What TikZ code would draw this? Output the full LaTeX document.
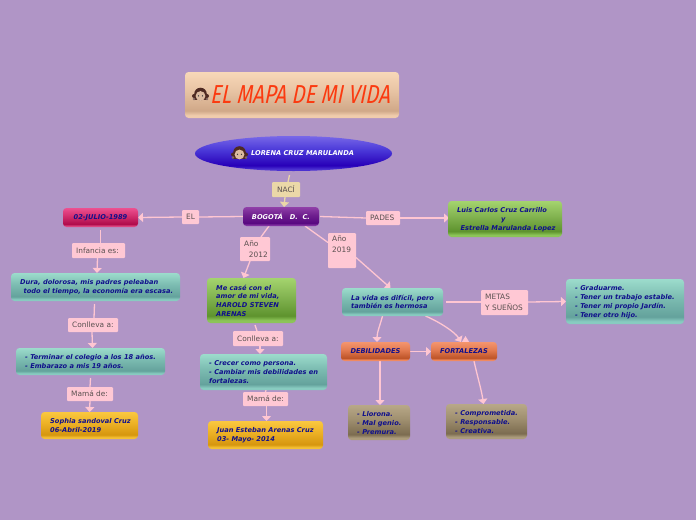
\documentclass[tikz,border=0pt]{standalone}
\usepackage{fontspec}
\setmainfont{DejaVu Sans}
\newfontfamily\titlefont{Fira Sans}
\usetikzlibrary{arrows.meta,shapes.geometric,backgrounds,calc}
\definecolor{bgp}{HTML}{B095C6}
\definecolor{lnk}{HTML}{FFC6D2}
\definecolor{lblc}{HTML}{FFC8D4}
\definecolor{cream}{HTML}{EBD8A8}
\definecolor{ink}{HTML}{10108C}
\definecolor{lbltext}{HTML}{5A5050}
\definecolor{titlered}{HTML}{FB3A10}
\newcommand{\shadedef}[5]{% name, top, mid, bottom, band
  \pgfdeclareverticalshading{#1}{100bp}{color(0bp)=(#5); color(25bp)=(#5); color(28bp)=(#5); color(33bp)=(#4); color(55bp)=(#3); color(75bp)=(#2); color(100bp)=(#2)}}
\definecolor{tA}{HTML}{9CDCCC}\definecolor{tB}{HTML}{7DBDB2}\definecolor{tC}{HTML}{64A29C}\definecolor{tD}{HTML}{88CBC0}
\definecolor{gA}{HTML}{A4D46E}\definecolor{gB}{HTML}{84B552}\definecolor{gC}{HTML}{5E932E}\definecolor{gD}{HTML}{8CC458}
\definecolor{oA}{HTML}{FAC840}\definecolor{oB}{HTML}{EDB226}\definecolor{oC}{HTML}{D6960E}\definecolor{oD}{HTML}{F4C034}
\definecolor{rA}{HTML}{F4956E}\definecolor{rB}{HTML}{E47C52}\definecolor{rC}{HTML}{BE5428}\definecolor{rD}{HTML}{F08A60}
\definecolor{nA}{HTML}{B8A888}\definecolor{nB}{HTML}{A09070}\definecolor{nC}{HTML}{7C6C50}\definecolor{nD}{HTML}{AC9C7C}
\definecolor{pA}{HTML}{EC5090}\definecolor{pB}{HTML}{D43070}\definecolor{pC}{HTML}{B00C4C}\definecolor{pD}{HTML}{DC4480}
\definecolor{vA}{HTML}{9040A8}\definecolor{vB}{HTML}{702090}\definecolor{vC}{HTML}{580880}\definecolor{vD}{HTML}{8030A0}
\definecolor{bA}{HTML}{7868E8}\definecolor{bB}{HTML}{4A38D8}\definecolor{bC}{HTML}{2800B8}\definecolor{bD}{HTML}{4A30D0}
\definecolor{kA}{HTML}{F8D8B8}\definecolor{kB}{HTML}{E8C4A4}\definecolor{kC}{HTML}{D0A888}\definecolor{kD}{HTML}{F0CCAC}
\shadedef{shT}{tA}{tB}{tC}{tD}
\shadedef{shG}{gA}{gB}{gC}{gD}
\shadedef{shO}{oA}{oB}{oC}{oD}
\shadedef{shR}{rA}{rB}{rC}{rD}
\shadedef{shN}{nA}{nB}{nC}{nD}
\shadedef{shP}{pA}{pB}{pC}{pD}
\shadedef{shV}{vA}{vB}{vC}{vD}
\shadedef{shB}{bA}{bB}{bC}{bD}
\shadedef{shK}{kA}{kB}{kC}{kD}
\tikzset{
  x=1pt,y=-1pt,
  box/.style={rounded corners=3.5pt,inner sep=0pt,outer sep=0pt,anchor=north west,shade,align=left,text=ink},
  boxtext/.style={anchor=north west,inner sep=0pt,align=left,text=ink,font=\fontsize{6.65}{8.8}\selectfont\bfseries\itshape},
  headtext/.style={inner sep=0pt,text=ink,font=\fontsize{6.65}{8}\selectfont\bfseries\itshape},
  lbl/.style={fill=lblc,rounded corners=1pt,inner sep=0pt,outer sep=0pt,anchor=north west},
  lbltxt/.style={inner sep=0pt,align=left,text=lbltext,font=\fontsize{7.4}{9}\selectfont},
  lnkl/.style={draw=lnk,line width=1.3pt,line cap=butt},
  arr/.style={lnkl,-{Triangle[width=9pt,length=5pt,color=lnk]}},
}
\newcommand{\bx}[7]{% name x0 y0 x1 y1 shading text
  \node[box,shading=#6,minimum width=#4pt-#2pt,minimum height=#5pt-#3pt] (#1) at (#2,#3) {};
  \node[boxtext] at (#2+9,#3+6.5) {#7};}
\newcommand{\lb}[6]{% name x0 y0 x1 y1 text
  \node[lbl,minimum width=#4pt-#2pt,minimum height=#5pt-#3pt] (#1) at (#2,#3) {};
  \node[lbltxt,anchor=west] at (#2+4,{(#3+#5)/2}) {#6};}
\newcommand{\girl}[2]{%
  \fill[fill=#1] (#2) ++(-6.5,1) circle[radius=2];
  \fill[fill=#1] (#2) ++(6.5,1) circle[radius=2];
  \fill[fill=#1] (#2) ++(0,-1) circle[radius=6.3];
  \fill[fill=#1] (#2) ++(-6.3,-1) rectangle ++(12.6,6);
  \fill[fill=#1!70!white] (#2) ++(-6.5,4) circle[radius=1.4];
  \fill[fill=#1!70!white] (#2) ++(6.5,4) circle[radius=1.4];
  \fill[fill=#1!25!white!80!orange] (#2) ++(0,1) circle[radius=4.9];
  \fill[fill=black!75] (#2) ++(-2,0.8) circle[radius=.7];
  \fill[fill=black!75] (#2) ++(2,0.8) circle[radius=.7];
}
\definecolor{hairb}{HTML}{4E2A22}
\begin{document}
\begin{tikzpicture}
\useasboundingbox (0,0) rectangle (696,520);
% title
\node[box,shading=shK,minimum width=214pt,minimum height=46pt] (title) at (185,72) {};
\girl{hairb}{200.5,95}
\node[inner sep=0pt,text=titlered,xscale=.79,xslant=.12] (ttext) at (301.5,95) {\fontsize{26}{28}\selectfont\titlefont\itshape EL MAPA DE MI VIDA};
% root
\node[ellipse,shade,shading=shB,minimum width=197pt,minimum height=35pt,inner sep=0pt,outer sep=0pt] (root) at (293.5,153.5) {};
\girl{hairb}{239.5,153.5}
\node[anchor=west,inner sep=0pt,text=white,font=\fontsize{6.65}{8}\selectfont\bfseries\itshape] at (251,153.5) {LORENA CRUZ MARULANDA};
% central
\node[box,shading=shV,minimum width=76pt,minimum height=19pt] (bog) at (243,207) {};
\node[inner sep=0pt,text=white,font=\fontsize{6.65}{8}\selectfont\bfseries\itshape] at (281,216) {BOGOTÁ\ \ \ D.\ \ C.};
\node[box,shading=shP,minimum width=75pt,minimum height=19pt] (date) at (63,208) {};
\node[headtext] at (100.5,217.5) {02-JULIO-1989};
% content boxes
\bx{infa}{11}{273}{180}{301}{shT}{Dura, dolorosa, mis padres peleaban\\\ \,todo el tiempo, la economía era escasa.}
\bx{cole}{16}{348}{165}{375}{shT}{- Terminar el colegio a los 18 años.\\- Embarazo a mis 19 años.}
\bx{soph}{41}{412}{138}{439}{shO}{Sophia sandoval Cruz\\06-Abril-2019}
\bx{case}{207}{278}{296}{323}{shG}{Me casé con el\\amor de mi vida,\\HAROLD STEVEN\\ARENAS}
\bx{crec}{200}{354}{327}{390}{shT}{- Crecer como persona.\\- Cambiar mis debilidades en\\fortalezas.}
\bx{juan}{208}{421}{323}{449}{shO}{Juan Esteban Arenas Cruz\\03- Mayo- 2014}
\bx{vida}{342}{288}{443}{316}{shT}{La vida es difícil, pero\\también es hermosa}
\bx{padr}{448}{201}{562}{237}{shG}{Luis Carlos Cruz Carrillo\\\hspace*{44pt}y\\\ \,Estrella Marulanda Lopez}
\bx{meta}{566}{279}{684}{324}{shT}{- Graduarme.\\- Tener un trabajo estable.\\- Tener mi propio Jardín.\\- Tener otro hijo.}
\bx{llor}{348}{405}{410}{440}{shN}{- Llorona.\\- Mal genio.\\- Premura.}
\bx{comp}{446}{404}{527}{439}{shN}{- Comprometida.\\- Responsable.\\- Creativa.}
\node[box,shading=shR,minimum width=69pt,minimum height=19pt] (deb) at (341,342) {};
\node[headtext] at (375.5,351.5) {DEBILIDADES};
\node[box,shading=shR,minimum width=66pt,minimum height=19pt] (fort) at (431,342) {};
\node[headtext] at (464,351.5) {FORTALEZAS};
% labels
\node[lbl,fill=cream,minimum width=28pt,minimum height=15pt] (naci) at (272,182) {};
\node[lbltxt] at (286,189.5) {NACÍ};
\lb{el}{182}{210}{199}{224}{EL}
\lb{infl}{72}{243}{125}{258}{Infancia es:}
\lb{con1}{68}{318}{118}{332}{Conlleva a:}
\lb{mam1}{67}{387}{113}{401}{Mamá de:}
\lb{a12}{240}{237}{270}{261}{Año\\[1.6pt]\ \ 2012}
\lb{con2}{233}{331}{283}{346}{Conlleva a:}
\lb{mam2}{243}{392}{288}{406}{Mamá de:}
\node[lbl,minimum width=28pt,minimum height=35pt] (a19) at (328,233) {};
\node[lbltxt,anchor=west] at (332,244.5) {Año\\[2pt]2019};
\lb{pad}{366}{211}{400}{225}{PADES}
\lb{met}{481}{290}{528}{315}{METAS\\[1.6pt]Y SUEÑOS}
% connectors
\begin{scope}[on background layer]
\fill[bgp] (0,0) rectangle (696,520);
\draw[lnkl,draw=cream] ($(root.south)+(-4,4)$) -- ($(naci.north)+(2,0)$);
\draw[lnkl,draw=cream,-{Triangle[width=9pt,length=5pt,color=cream]}] ($(naci.south)+(-1,0)$) -- ($(bog.north)+(3,0)$);
\draw[lnkl] (bog.west) -- (el.east);
\draw[arr] (el.west) -- (date.east);
\draw[lnkl] ($(date.south)+(0,3)$) -- ($(infl.north)+(2,0)$);
\draw[arr] ($(infl.south)+(-1,0)$) -- ($(infa.north)+(1.5,0)$);
\draw[lnkl] ($(infa.south)+(-1,3)$) -- ($(con1.north)+(1,0)$);
\draw[arr] ($(con1.south)+(-1,0)$) -- ($(cole.north)+(2,0)$);
\draw[lnkl] ($(cole.south)+(0,3)$) -- (mam1.north);
\draw[arr] (mam1.south) -- (soph.north);
\draw[lnkl] ($(bog.south)+(-12,0)$) -- ($(a12.north)+(6,0)$);
\draw[arr] ($(a12.south)+(-5,0)$) -- ($(case.north)+(-8,0)$);
\draw[lnkl] ($(case.south)+(3.5,2)$) -- ($(con2.north)+(-1,0)$);
\draw[arr] ($(con2.south)+(2,0)$) -- ($(crec.north)+(-3.5,0)$);
\draw[lnkl] ($(crec.south)+(2.5,0)$) -- (mam2.north);
\draw[arr] ($(mam2.south)+(1,0)$) -- ($(juan.north)+(1,0)$);
\draw[lnkl] ($(bog.south)+(24,0)$) -- ($(a19.west)+(0,-8)$);
\draw[arr] ($(a19.east)+(0,7)$) -- ($(vida.north)+(-2,0)$);
\draw[lnkl] ($(bog.east)+(1,0)$) -- (pad.west);
\draw[arr] (pad.east) -- ($(padr.west)+(1,-1)$);
\draw[lnkl] ($(vida.east)+(3,0)$) -- ($(met.west)+(0,-0.5)$);
\draw[arr] ($(met.east)+(0,-0.5)$) -- (meta.west);
\draw[arr] ($(vida.south)+(-10,0)$) .. controls +(-2,8) and +(0,-10) .. ($(deb.north)+(1.5,0)$);
\draw[arr] ($(vida.south)+(33,0)$) .. controls +(14,6) and +(-6,-10) .. ($(fort.north)+(-3,0)$);
\draw[lnkl,-{Triangle[width=7pt,length=6pt,color=lnk]}] ($(fort.north)+(1.5,0)$) -- ++(0,-6);
\draw[arr] ($(fort.south)+(10,0)$) .. controls +(3,14) and +(-2,-14) .. ($(comp.north)+(-3,0)$);
\draw[arr] (deb.east) -- (fort.west);
\draw[arr] ($(deb.south)+(4.5,0)$) -- ($(llor.north)+(1,0)$);
\end{scope}
\end{tikzpicture}
\end{document}
